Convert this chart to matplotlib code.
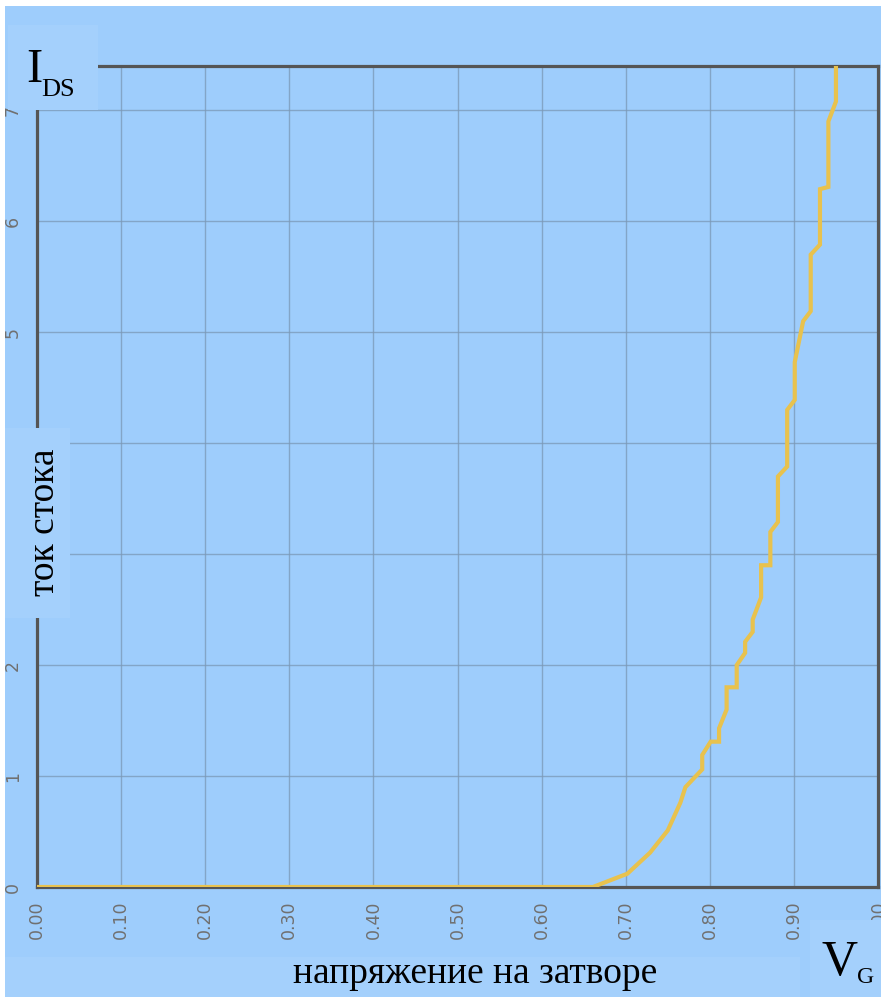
import numpy as np
import matplotlib
matplotlib.use("Agg")
import matplotlib.pyplot as plt
from matplotlib.patches import Rectangle

# drain current vs gate voltage
vg = [0.000, 0.661, 0.702, 0.729, 0.750, 0.765, 0.771, 0.791, 0.791, 0.801,
      0.811, 0.811, 0.820, 0.820, 0.832, 0.832, 0.842, 0.842, 0.851, 0.851,
      0.861, 0.861, 0.872, 0.872, 0.881, 0.881, 0.892, 0.892, 0.901, 0.901,
      0.911, 0.920, 0.920, 0.931, 0.931, 0.941, 0.941, 0.950, 0.950]
ids = [0.00, 0.00, 0.12, 0.31, 0.51, 0.76, 0.90, 1.06, 1.19, 1.31,
       1.31, 1.43, 1.60, 1.80, 1.80, 2.00, 2.11, 2.21, 2.30, 2.41,
       2.61, 2.90, 2.90, 3.20, 3.29, 3.70, 3.79, 4.30, 4.39, 4.73,
       5.10, 5.19, 5.70, 5.79, 6.29, 6.31, 6.90, 7.08, 7.60]

xticks = [0.0, 0.1, 0.2, 0.3, 0.4, 0.5, 0.6, 0.7, 0.8, 0.9, 1.0]
xticklabels = ["0.00", "0.10", "0.20", "0.30", "0.40", "0.50",
               "0.60", "0.70", "0.80", "0.90", "1.00"]
yticks = [0, 1, 2, 3, 4, 5, 6, 7]
yticklabels = ["0", "1", "2", "3", "4", "5", "6", "7"]

BG = "#9ecdfc"
BOX = "#a4d0fc"
W, H = 881, 997

fig = plt.figure(figsize=(W / 100, H / 100), dpi=100, facecolor="white")


def px_rect(x0, y0, x1, y1, color, z=0):
    # rectangle in pixel coords (y from top)
    r = Rectangle((x0 / W, 1 - y1 / H), (x1 - x0) / W, (y1 - y0) / H,
                  transform=fig.transFigure, facecolor=color,
                  edgecolor="none", zorder=z)
    fig.add_artist(r)


# blue page (white strip on top and left)
px_rect(5, 6, W, H, BG, z=-10)

ax = fig.add_axes([37 / W, 1 - 887 / H, (878 - 37) / W, (887 - 66) / H])
ax.set_facecolor(BG)
ax.plot(vg, ids, color="#e8c24e", lw=3.0, solid_joinstyle="miter", zorder=3)
ax.set_xlim(0, 1.0)
ax.set_ylim(0, 7.4)
ax.set_xticks(xticks)
ax.set_xticklabels(xticklabels, rotation=90, fontsize=12.5, color="#707070")
ax.set_yticks(yticks)
ax.set_yticklabels(yticklabels, rotation=90, fontsize=12.5, color="#707070",
                   va="center")
ax.tick_params(length=0)
ax.tick_params(axis="x", pad=9.5)
ax.tick_params(axis="y", pad=11)
ax.grid(True, color="#7b98b6", lw=1.0, alpha=0.75)
for s in ax.spines.values():
    s.set_color("#555555")
    s.set_linewidth(2.3)

# label boxes
px_rect(8, 25, 98, 110, BOX, z=5)
px_rect(5, 428, 70, 618, BOX, z=5)
px_rect(5, 957, 800, H, BOX, z=5)
px_rect(810, 920, W, H, BOX, z=5)

serif = "Liberation Serif"
fig.text(45 / W, 1 - 522 / H, "ток стока", rotation=90, ha="center",
         va="center", fontsize=27, family=serif, zorder=6)
fig.text(475 / W, 1 - 974 / H, "напряжение на затворе", ha="center",
         va="center", fontsize=27, family=serif, zorder=6)
fig.text(26 / W, 1 - 82 / H, "I", fontsize=35, family=serif, zorder=6)
fig.text(41 / W, 1 - 96 / H, "DS", fontsize=19, family=serif, zorder=6)
fig.text(822 / W, 1 - 975 / H, "V", fontsize=36, family=serif, zorder=6)
fig.text(857 / W, 1 - 983 / H, "G", fontsize=17, family=serif, zorder=6)

fig.savefig("out.png", dpi=100, facecolor="white")
